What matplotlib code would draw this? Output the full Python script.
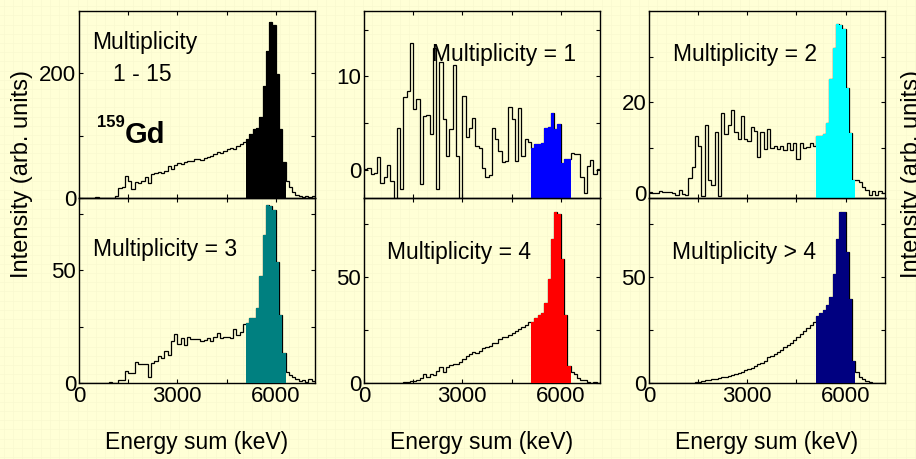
import numpy as np
import matplotlib
matplotlib.use('Agg')
import matplotlib.pyplot as plt

plt.rcParams['font.family'] = ['Liberation Sans', 'DejaVu Sans']

# energy-sum spectra, 100 keV bins from 0 to 7200 keV
bin_edges = np.arange(0, 7201, 100)
peak_lo, peak_hi = 5100, 6300

m_all = [0, 0, 0, 0, 0, 1, 0, 0, 0, 0, 0, 4,
         16, 18, 36, 28, 14, 25, 24, 27, 33, 24, 38, 40,
         41, 40, 43, 51, 47, 53, 56, 54, 58, 60, 59, 62,
         63, 61, 64, 66, 68, 70, 73, 72, 75, 79, 80, 78, 84, 86, 90,
         95, 103, 110, 112, 130, 179, 236, 282, 277, 199, 111, 58,
         28, 18, 10, 5, 4, 2, 3, 2, 3]

m1 = [0.1, 0.2, -0.4, -0.3, 1.4, -1.4, -0.8, 0.5, -1.2, -3.5, 4.5, -2.0,
      7.8, 8.4, 13.6, 6.5, 7.6, -1.5, 5.8, 5.9, 3.8, 13.0, -2.0, 11.5,
      5.4, 1.5, 4.4, 11.2, 1.5, -3.5, 7.9, 3.5, 4.5, 5.6, 2.6, 2.4,
      0.2, -0.75, -0.5, 4.5, 3.3, 2.0, 0.9, 1.0, 6.7, 5.4, 1.0, 6.6, 1.5, 3.3, 3.0,
      2.4, 2.8, 2.8, 2.9, 4.5, 4.6, 6.1, 4.4, 4.9, 0.7, 1.2, 1.2,
      1.8, 1.7, 1.7, -0.8, -2.5, 0.4, 1.1, -0.4, 0.1]

m2 = [0.3, 0.2, 0.1, 0.6, 0.3, 0.4, 0.4, 0.1, -0.3, 0.8, -0.2, -0.3,
      3.4, 5.8, 12.5, 10.5, -0.5, 15.1, 3.0, 1.8, 13.5, -0.5, 17.6, 13.0,
      15.0, 18.2, 13.5, 12.0, 17.0, 12.0, 11.5, 14.5, 13.7, 8.0, 13.5, 9.7,
      14.2, 10.0, 10.5, 9.7, 10.5, 9.5, 11.0, 9.5, 11.0, 7.6, 11.0, 10.0, 10.2, 11.0, 10.5,
      12.5, 12.5, 13.1, 15.4, 25.0, 31.8, 37.2, 37.0, 36.0, 23.1, 13.2, 2.9,
      3.0, 2.4, 1.5, 0.8, -0.3, 0.6, -0.3, 0.6, 0.1]

m3 = [0, 0, 0, 0, 0, 0, 0, 0, 0, 0.3, 0, 0,
      1.5, 1.5, 5.3, 4.6, 4.6, 9.4, 8.3, 8.3, 8.3, 2.5, 8.8, 9.7,
      12.1, 11.0, 14.3, 12.5, 18.5, 21.5, 17.5, 20.0, 16.8, 20.2, 19.5, 19.3,
      19.3, 18.8, 19.0, 19.8, 18.8, 20.4, 22.0, 19.8, 20.6, 20.4, 20.0, 24.0, 21.2, 22.6, 26.0,
      26.8, 28.7, 28.7, 33.1, 47.4, 65.4, 79.1, 78.5, 76.5, 53.7, 30.1, 13.2,
      5.0, 3.5, 2.5, 1.8, 1.0, 1.5, 0.6, 1.6, 0.8]

m4 = [0, 0, 0, 0, 0, 0, 0, 0, 0, 0, 0.2, 0.2,
      0.3, 0.5, 0.8, 1.0, 1.5, 2.5, 4.0, 3.0, 4.4, 3.8, 5.5, 7.5,
      5.0, 7.5, 8.5, 9.0, 8.8, 10.0, 11.5, 12.5, 13.5, 14.4, 14.2, 15.0,
      16.3, 17.0, 17.5, 18.9, 19.0, 20.5, 21.5, 21.4, 22.5, 23.5, 24.5, 25.2, 26.4, 27.5, 28.5,
      28.8, 30.5, 31.8, 33.0, 37.7, 48.7, 67.6, 80.5, 79.4, 58.5, 32.2, 7.9,
      5.0, 4.0, 2.5, 1.2, 1.5, 0.3, 0.1, 0.6, 0.2]

m_gt4 = [0, 0, 0, 0, 0, 0, 0, 0, 0, 0, 0, 0,
         0, 0, 0.3, 0.5, 0.8, 1.5, 1.5, 1.8, 2.0, 2.4, 2.8, 3.0,
         3.5, 3.8, 4.4, 4.6, 5.0, 6.0, 6.5, 7.2, 8.0, 9.0, 9.5, 10.5,
         12.0, 12.5, 13.5, 14.5, 15.5, 17.0, 18.0, 19.0, 20.0, 21.5, 23.0, 24.5, 26.0, 27.5, 28.5,
         31.4, 32.7, 34.5, 36.5, 40.6, 51.1, 67.6, 80.5, 80.5, 61.6, 39.3, 10.2,
         5.0, 3.0, 2.0, 0.8, 0.3, 0, 0, 0, 0]

labels = ['', 'Multiplicity = 1', 'Multiplicity = 2',
          'Multiplicity = 3', 'Multiplicity = 4', 'Multiplicity > 4']

bg_col = '#FFFFD6'
fig = plt.figure(figsize=(9.16, 4.59), dpi=100)
fig.patch.set_facecolor(bg_col)

# faint paper grid behind everything
bg = fig.add_axes([0, 0, 1, 1], zorder=-10)
bg.set_facecolor(bg_col)
bg.set_xlim(0, 916)
bg.set_ylim(0, 459)
bg.set_xticks(np.arange(4, 916, 9.2))
bg.set_yticks(np.arange(2, 459, 9.2))
bg.grid(True, color='#F8F8D0', lw=0.5)
bg.tick_params(length=0, labelbottom=False, labelleft=False)
for s in bg.spines.values():
    s.set_visible(False)

W = 916.0
H = 459.0
col_x = [79, 364, 649]
ax_w = 236 / W
rows = [(1 - 198 / H, 187 / H), (1 - 383 / H, 185 / H)]

specs = [
    (m_all, 'black',   0, 0, (0, 300), [0, 200], [100]),
    (m1,    '#0000FF', 0, 1, (-3, 17), [0, 10], [5, 15]),
    (m2,    '#00FFFF', 0, 2, (-1, 40), [0, 20], [10, 30]),
    (m3,    '#008080', 1, 0, (0, 82), [0, 50], [25, 75]),
    (m4,    '#FF0000', 1, 1, (0, 87), [0, 50], [25, 75]),
    (m_gt4, '#000080', 1, 2, (0, 87), [0, 50], [25, 75]),
]
text_pos = [None, (0.288, 0.765), (0.102, 0.765),
            (0.06, 0.719), (0.097, 0.703), (0.098, 0.703)]

axes = []
for i, (counts, color, r, c, ylim, yt, ymt) in enumerate(specs):
    b, h = rows[r]
    ax = fig.add_axes([col_x[c] / W, b, ax_w, h])
    ax.set_facecolor('none')
    counts = np.asarray(counts, dtype=float)
    ax.stairs(counts, bin_edges, baseline=None, color='black', lw=0.9, zorder=2)
    sel = np.flatnonzero((bin_edges[:-1] >= peak_lo) & (bin_edges[:-1] < peak_hi))
    i0, i1 = sel[0], sel[-1]
    ax.stairs(counts[i0:i1 + 1], bin_edges[i0:i1 + 2], baseline=ylim[0],
              fill=True, color=color, lw=0, zorder=3)
    ax.set_xlim(0, 7200)
    ax.set_ylim(*ylim)
    ax.set_xticks([0, 3000, 6000])
    ax.set_xticks([1500, 4500], minor=True)
    ax.set_yticks(yt)
    ax.set_yticks(ymt, minor=True)
    ax.tick_params(which='both', direction='in', top=True, right=True,
                   length=3, width=0.8, labelsize=16, pad=2)
    if r == 0:
        ax.tick_params(labelbottom=False)
    for s in ax.spines.values():
        s.set_linewidth(1.0)
    if text_pos[i] is not None:
        ax.text(text_pos[i][0], text_pos[i][1], labels[i], transform=ax.transAxes,
                fontsize=16.5, ha='left', va='center')
    axes.append(ax)

a0 = axes[0]
a0.text(0.055, 0.834, 'Multiplicity', transform=a0.transAxes, fontsize=16.5,
        ha='left', va='center')
a0.text(0.144, 0.658, '1 - 15', transform=a0.transAxes, fontsize=16.5,
        ha='left', va='center')
a0.text(0.076, 0.406, '159', transform=a0.transAxes, fontsize=12,
        fontweight='bold', ha='left', va='center')
a0.text(0.195, 0.337, 'Gd', transform=a0.transAxes, fontsize=21,
        fontweight='bold', ha='left', va='center')

for c in col_x:
    fig.text((c + 118) / W, 1 - 443 / H, 'Energy sum (keV)', fontsize=16.5,
             ha='center', va='center')

fig.text(0.024, 0.62, 'Intensity (arb. units)', rotation=90, fontsize=17,
         ha='center', va='center')
fig.text(0.996, 0.62, 'Intensity (arb. units)', rotation=90, fontsize=17,
         ha='center', va='center')

fig.savefig('out.png', dpi=100, facecolor=bg_col)
